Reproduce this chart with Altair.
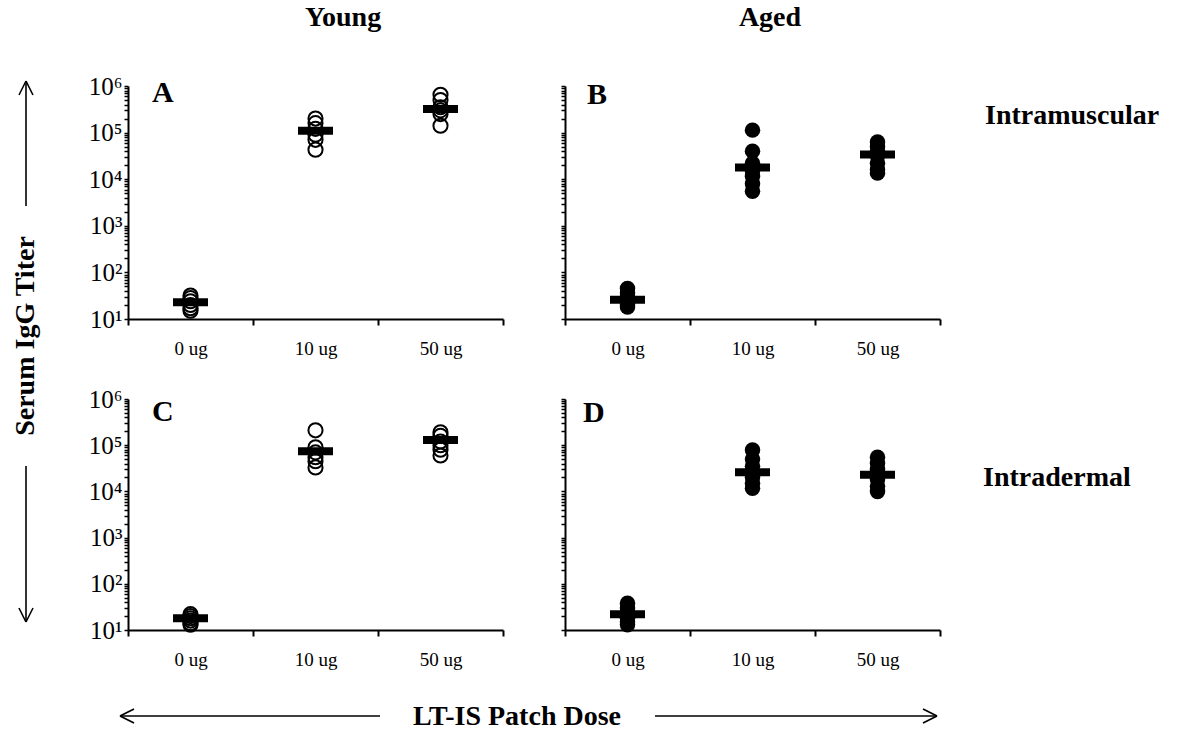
import altair as alt
import pandas as pd

doses = ["0 ug", "10 ug", "50 ug"]

# Panel A: Young, Intramuscular (open circles)
a_0ug = [32, 28, 24, 20, 17, 15]
a_10ug = [200000, 160000, 120000, 90000, 70000, 43000]
a_50ug = [650000, 500000, 350000, 300000, 250000, 140000]
a_median = [23, 110000, 320000]

# Panel B: Aged, Intramuscular (filled circles)
b_0ug = [45, 36, 30, 26, 22, 20, 18]
b_10ug = [113000, 40000, 22000, 15000, 11500, 8000, 5500]
b_50ug = [63000, 50000, 40000, 32000, 22000, 16000, 13500]
b_median = [26, 17800, 34000]

# Panel C: Young, Intradermal (open circles)
c_0ug = [22, 20, 18, 16, 14, 13]
c_10ug = [210000, 90000, 70000, 55000, 45000, 33000]
c_50ug = [190000, 160000, 120000, 100000, 80000, 60000]
c_median = [18, 74000, 130000]

# Panel D: Aged, Intradermal (filled circles)
d_0ug = [38, 30, 25, 22, 18, 15, 13]
d_10ug = [79000, 50000, 35000, 26000, 20000, 15000, 11700]
d_50ug = [55000, 40000, 30000, 23000, 18000, 13000, 10000]
d_median = [22, 26000, 23000]

y_tick_values = [k * 10 ** e for e in range(1, 6) for k in range(1, 10)] + [10 ** 6]
y_label_expr = ("datum.value === 10 ? '10\u00b9' : datum.value === 100 ? '10\u00b2' : "
                "datum.value === 1000 ? '10\u00b3' : datum.value === 10000 ? '10\u2074' : "
                "datum.value === 100000 ? '10\u2075' : datum.value === 1000000 ? '10\u2076' : ''")

FONT = "Liberation Serif"


def to_frame(groups):
    rows = []
    for d, g in zip(doses, groups):
        for v in g:
            rows.append({"dose": d, "titer": v})
    return pd.DataFrame(rows)


def label(text, x, y, size, align="center", angle=0, weight="bold"):
    return alt.Chart(pd.DataFrame({"t": [text]})).mark_text(
        font=FONT, fontSize=size, fontWeight=weight, align=align,
        baseline="middle", angle=angle, color="black"
    ).encode(x=alt.value(x), y=alt.value(y), text="t:N")


def seg(x1, y1, x2, y2):
    return alt.Chart(pd.DataFrame({"t": [0]})).mark_rule(
        color="black", strokeWidth=1.6
    ).encode(x=alt.value(x1), y=alt.value(y1), x2=alt.value(x2), y2=alt.value(y2))


def panel(groups, medians, letter, lx, ly, filled, show_labels, width, height, extras):
    pts = to_frame(groups)
    med = pd.DataFrame({"dose": doses, "titer": medians})
    x = alt.X("dose:N", sort=doses,
              scale=alt.Scale(domain=doses, paddingInner=0, paddingOuter=0),
              axis=alt.Axis(title=None, labelAngle=0, tickBand="extent",
                            labelFont=FONT, labelFontSize=19, labelColor="black",
                            labelPadding=14, tickSize=6, tickWidth=2, tickColor="black",
                            domainColor="black", domainWidth=2, grid=False))
    y = alt.Y("titer:Q",
              scale=alt.Scale(type="log", domain=[10, 1000000], nice=False),
              axis=alt.Axis(title=None, values=y_tick_values, labelExpr=y_label_expr,
                            labels=show_labels, labelFont=FONT, labelFontSize=25,
                            labelColor="black", labelPadding=2, tickSize=4, tickWidth=1.5,
                            tickColor="black", domainColor="black", domainWidth=2,
                            grid=False, labelOverlap=False, labelBound=False))
    base = alt.Chart(pts)
    if filled:
        pm = base.mark_circle(size=240, color="black", opacity=1)
    else:
        pm = base.mark_point(shape="circle", filled=False, size=200, strokeWidth=2,
                             color="black", opacity=1)
    points = pm.encode(x=x, y=y)
    bars = alt.Chart(med).mark_tick(thickness=8, size=35, color="black", opacity=1).encode(x=x, y=y)
    let = label(letter, lx, ly, 30, align="left")
    return alt.layer(points, bars, let, *extras).properties(width=width, height=height)


# Decorations relative to panel A origin
extras_a = [
    label("Young", 215, -68, 28),
    label("Serum IgG Titer", -102, 250, 28, angle=270),
    seg(-102, -5, -102, 120),
    seg(-102, -5, -109, 9),
    seg(-102, -5, -95, 9),
    seg(-102, 380, -102, 536),
    seg(-102, 536, -109, 522),
    seg(-102, 536, -95, 522),
    label("LT-IS Patch Dose", 389, 631, 28),
    seg(-8, 630, 252, 630),
    seg(-8, 630, 6, 623),
    seg(-8, 630, 6, 637),
    seg(527, 630, 809, 630),
    seg(809, 630, 795, 623),
    seg(809, 630, 795, 637),
]
extras_b = [
    label("Aged", 205, -68, 28),
    label("Intramuscular", 420, 30, 28, align="left"),
]
extras_d = [
    label("Intradermal", 418, 79, 28, align="left"),
]

pa = panel([a_0ug, a_10ug, a_50ug], a_median, "A", 24, 7, False, True, 375, 233, extras_a)
pb = panel([b_0ug, b_10ug, b_50ug], b_median, "B", 22, 9, True, False, 375, 233, extras_b)
pc = panel([c_0ug, c_10ug, c_50ug], c_median, "C", 24, 13, False, True, 375, 231, [])
pd_ = panel([d_0ug, d_10ug, d_50ug], d_median, "D", 18, 14, True, False, 375, 231, extras_d)

chart = alt.concat(
    pa, pb, pc, pd_, columns=2, bounds="flush",
    spacing=alt.RowColnumber(row=80, column=62),
).properties(
    padding={"left": 12, "top": 4, "right": 5, "bottom": 5},
    background="white",
).configure_view(stroke=None)

chart.save("out.html", embed_options={"renderer": "svg", "actions": False})
